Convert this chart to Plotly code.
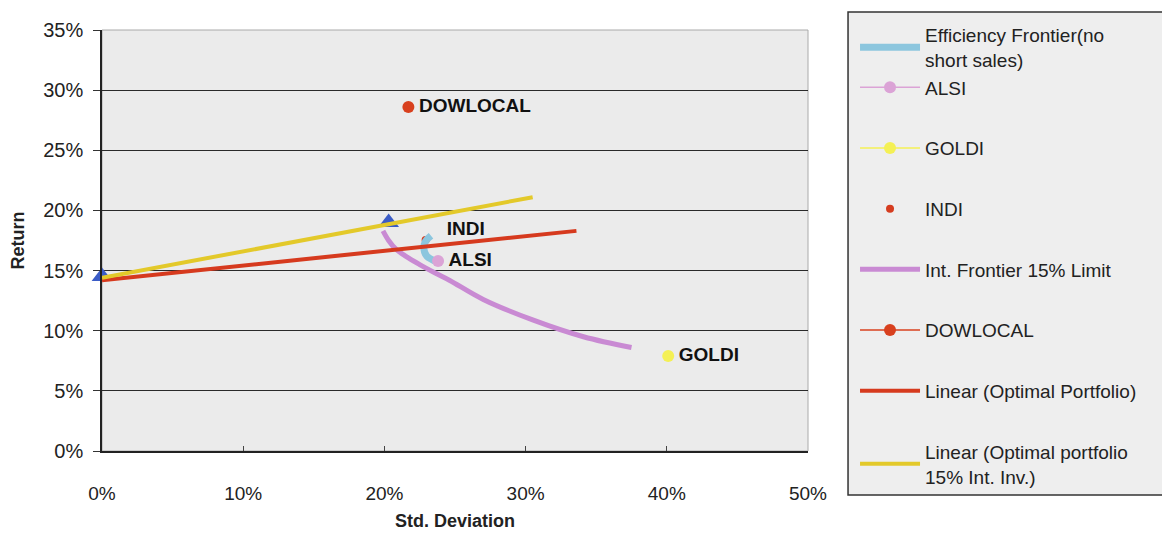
import plotly.graph_objects as go

# ---- data (fractions) ----
eff_x = [0.238, 0.230, 0.228, 0.229, 0.233]
eff_y = [0.157, 0.162, 0.168, 0.174, 0.179]

int_x = [0.199, 0.203, 0.208, 0.215, 0.225, 0.236, 0.246, 0.270, 0.305, 0.341, 0.375]
int_y = [0.183, 0.175, 0.168, 0.162, 0.155, 0.148, 0.142, 0.126, 0.109, 0.095, 0.086]

opt_x = [0.0, 0.203]
opt_y = [0.145, 0.190]

lin_op_x = [0.0, 0.336]
lin_op_y = [0.142, 0.183]

lin_15_x = [0.0, 0.305]
lin_15_y = [0.144, 0.211]

asset_names = ["ALSI", "GOLDI", "INDI", "DOWLOCAL"]
asset_x = [0.238, 0.401, 0.2292, 0.217]
asset_y = [0.158, 0.079, 0.1755, 0.286]

x_ticks = [0, 0.1, 0.2, 0.3, 0.4, 0.5]
y_ticks = [0, 0.05, 0.10, 0.15, 0.20, 0.25, 0.30, 0.35]

FONT = "Liberation Sans, Arial, sans-serif"

C_EFF = "#8cc6de"
C_ALSI = "#dba3d6"
C_GOLDI = "#f4f055"
C_INDI = "#d53c1f"
C_INT = "#c98ad3"
C_DOW = "#d8401e"
C_LOP = "#d63a1e"
C_L15 = "#e3c92a"
C_TRI = "#3b5cc6"

fig = go.Figure()
idx = {n: i for i, n in enumerate(asset_names)}

# drawing order (bottom -> top)
fig.add_trace(go.Scatter(x=opt_x, y=opt_y, mode="markers", showlegend=False, cliponaxis=False,
                         marker=dict(symbol="triangle-up", size=18, color=C_TRI)))
fig.add_trace(go.Scatter(x=int_x, y=int_y, mode="lines", name="Int. Frontier 15% Limit",
                         legendrank=5, legendgroup="g5", line=dict(color=C_INT, width=5, shape="spline")))
fig.add_trace(go.Scatter(x=[asset_x[idx["INDI"]]], y=[asset_y[idx["INDI"]]], mode="markers",
                         name="INDI", legendrank=4, legendgroup="g4",
                         marker=dict(color=C_INDI, size=8)))
fig.add_trace(go.Scatter(x=eff_x, y=eff_y, mode="lines", name="Efficiency Frontier(no<br>short sales)",
                         legendrank=1, legendgroup="g1", line=dict(color=C_EFF, width=7, shape="spline")))
fig.add_trace(go.Scatter(x=lin_op_x, y=lin_op_y, mode="lines", name="Linear (Optimal Portfolio)",
                         legendrank=7, legendgroup="g7", line=dict(color=C_LOP, width=4)))
fig.add_trace(go.Scatter(x=lin_15_x, y=lin_15_y, mode="lines",
                         name="Linear (Optimal portfolio<br>15% Int. Inv.)",
                         legendrank=8, legendgroup="g8", line=dict(color=C_L15, width=4)))
fig.add_trace(go.Scatter(x=[asset_x[idx["ALSI"]]], y=[asset_y[idx["ALSI"]]], mode="lines+markers",
                         name="ALSI", legendrank=2, legendgroup="g1",
                         line=dict(color=C_ALSI, width=1.5), marker=dict(color=C_ALSI, size=12)))
fig.add_trace(go.Scatter(x=[asset_x[idx["GOLDI"]]], y=[asset_y[idx["GOLDI"]]], mode="lines+markers",
                         name="GOLDI", legendrank=3, legendgroup="g3",
                         line=dict(color=C_GOLDI, width=1.5), marker=dict(color=C_GOLDI, size=12)))
fig.add_trace(go.Scatter(x=[asset_x[idx["DOWLOCAL"]]], y=[asset_y[idx["DOWLOCAL"]]], mode="lines+markers",
                         name="DOWLOCAL", legendrank=6, legendgroup="g6",
                         line=dict(color=C_DOW, width=1.5), marker=dict(color=C_DOW, size=12)))

# data labels
pos = {"ALSI": "middle right", "GOLDI": "middle right", "INDI": "top right", "DOWLOCAL": "middle right"}
fig.add_trace(go.Scatter(x=asset_x, y=asset_y, mode="text", showlegend=False, cliponaxis=False,
                         text=["  <b>" + n + "</b>" if n != "INDI" else "    <b>" + n + "</b>" for n in asset_names],
                         textposition=[pos[n] for n in asset_names],
                         textfont=dict(family=FONT, size=19, color="#111")))

# page body adds an 8px offset; margins compensate so the plot sits at x 102-808, y 30-451
L, R, T, B = 94, 370, 22, 94
PLOT_H = 537 - T - B
fig.update_layout(
    width=1170, height=537,
    margin=dict(l=L, r=R, t=T, b=B, autoexpand=False),
    paper_bgcolor="white",
    plot_bgcolor="#ebebeb",
    font=dict(family=FONT, size=20, color="#222"),
    legend=dict(x=1.0666, y=1 - 8 / 537, yref="container", xanchor="left", yanchor="top",
                bgcolor="rgba(0,0,0,0)", borderwidth=0, maxheight=1,
                font=dict(family=FONT, size=19, color="#222"),
                tracegroupgap=33, itemwidth=60, traceorder="grouped"),
    shapes=[dict(type="rect", xref="paper", yref="paper",
                 x0=1.0567, x1=1.5057, y0=(451 - 495) / PLOT_H, y1=(451 - 12) / PLOT_H,
                 line=dict(color="#333", width=1.5), fillcolor="#eeeeee", layer="below"),
            dict(type="rect", xref="paper", yref="paper", x0=0, x1=1, y0=0, y1=1,
                 line=dict(color="#aaaaaa", width=1), layer="below")],
)

fig.update_xaxes(range=[0, 0.5], tickvals=x_ticks, tickformat=".0%",
                 showgrid=False, zeroline=False, showline=True, linecolor="#222", linewidth=1.5,
                 ticks="inside", ticklen=5, tickcolor="#444", ticklabelstandoff=24,
                 title=dict(text="<b>Std. Deviation</b>", font=dict(size=18), standoff=12),
                 tickfont=dict(size=19))
fig.update_yaxes(range=[0, 0.35], tickvals=y_ticks, tickformat=".0%",
                 showgrid=True, gridcolor="#2a2a2a", gridwidth=1.2, zeroline=False,
                 showline=True, linecolor="#222", linewidth=1.5,
                 ticks="outside", ticklen=7, tickcolor="#333", ticklabelstandoff=6,
                 title=dict(text="<b>Return</b>", font=dict(size=18), standoff=14),
                 tickfont=dict(size=20))

fig.write_html("out.html")
